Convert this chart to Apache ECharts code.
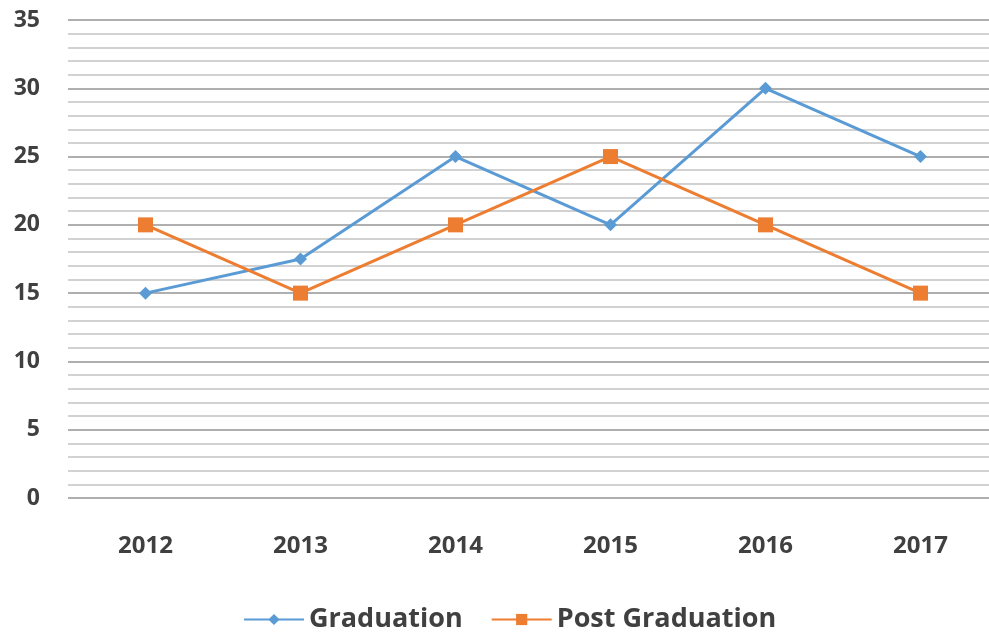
<!DOCTYPE html>
<html><head><meta charset="utf-8">
<script src="https://cdn.jsdelivr.net/npm/echarts@6/dist/echarts.min.js"></script>
<style>html,body{margin:0;padding:0;background:#fff;overflow:hidden}#c{width:998px;height:634px}</style>
</head><body><div id="c"></div>
<script>
const years = ['2012','2013','2014','2015','2016','2017'];
const graduation = [15, 17.5, 25, 20, 30, 25];
const postGraduation = [20, 15, 20, 25, 20, 15];
const yTicks = {min: 0, max: 35, interval: 5};

const chart = echarts.init(document.getElementById('c'));
const font = 'Open Sans, Liberation Sans, sans-serif';
chart.setOption({
  animation: false,
  grid: {left: 68, top: 20, right: 0, bottom: 136, containLabel: false},
  legend: {
    bottom: -4, left: 238, itemGap: 28, itemWidth: 60, itemHeight: 14,
    textStyle: {fontFamily: font, fontWeight: 'bold', fontSize: 27, color: '#404040'},
    data: ['Graduation', 'Post Graduation']
  },
  xAxis: {
    type: 'category', data: years, boundaryGap: true,
    axisLine: {show: false}, axisTick: {show: false},
    axisLabel: {margin: 36, fontFamily: font, fontWeight: 'bold', fontSize: 24, color: '#404040'}
  },
  yAxis: {
    type: 'value', min: yTicks.min, max: yTicks.max, interval: yTicks.interval,
    axisLine: {show: false}, axisTick: {show: false},
    axisLabel: {margin: 28, fontFamily: font, fontWeight: 'bold', fontSize: 23, color: '#404040'},
    splitLine: {lineStyle: {color: '#949494', width: 1.5}},
    minorTick: {show: false, splitNumber: 5},
    minorSplitLine: {show: true, lineStyle: {color: '#c4c4c4', width: 1.5}}
  },
  series: [
    {name: 'Graduation', type: 'line', data: graduation, symbol: 'diamond', symbolSize: 13,
     itemStyle: {color: '#5B9BD5'}, lineStyle: {width: 3, color: '#5B9BD5'}},
    {name: 'Post Graduation', type: 'line', data: postGraduation, symbol: 'rect', symbolSize: 15,
     itemStyle: {color: '#ED7D31'}, lineStyle: {width: 3, color: '#ED7D31'}}
  ]
});
</script></body></html>
